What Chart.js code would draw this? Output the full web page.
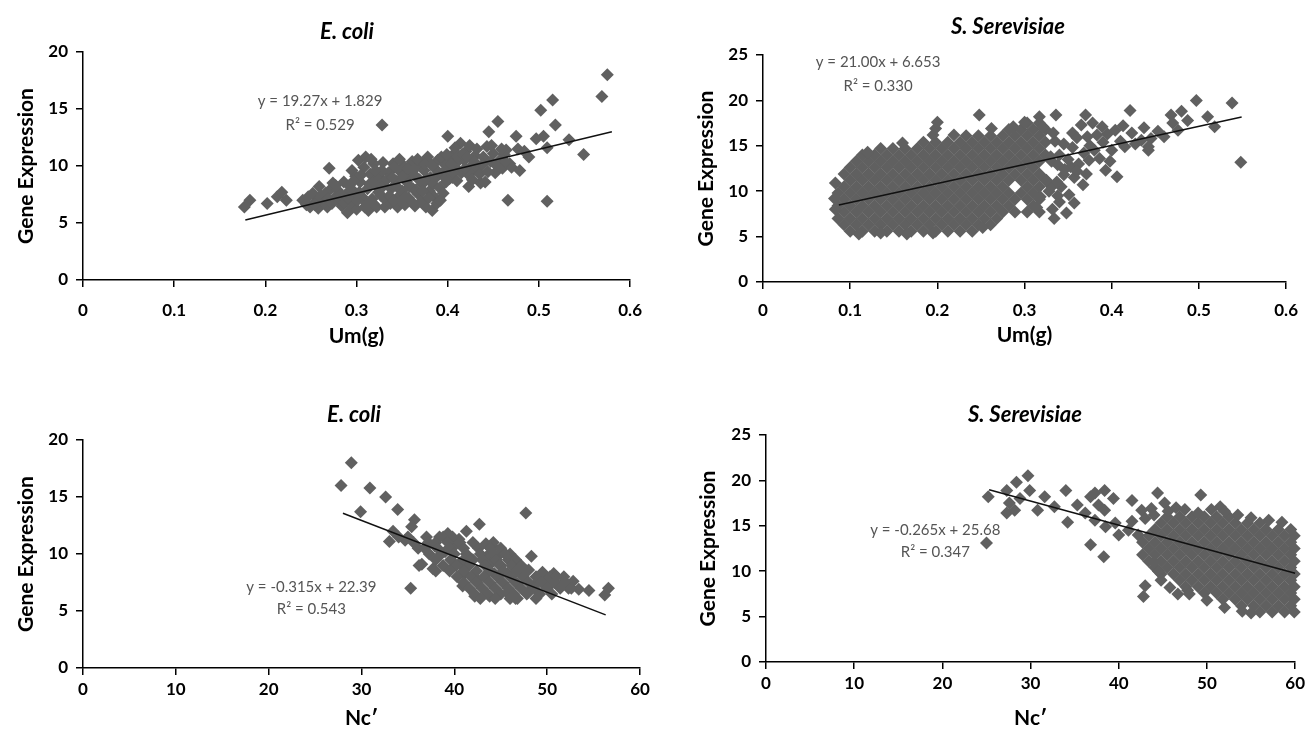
<!DOCTYPE html>
<html>
<head>
<meta charset="utf-8">
<script src="https://cdn.jsdelivr.net/npm/chart.js@4.4.1/dist/chart.umd.min.js"></script>
<style>
  html, body { margin: 0; padding: 0; background: #fff; overflow: hidden; width: 1309px; height: 731px; }
  canvas { position: absolute; }
</style>
</head>
<body>
<canvas id="p1" width="655" height="360" style="left:0;top:0"></canvas>
<canvas id="p2" width="629" height="360" style="left:680px;top:0"></canvas>
<canvas id="p3" width="655" height="361" style="left:0;top:370px"></canvas>
<canvas id="p4" width="629" height="361" style="left:680px;top:370px"></canvas>
<script>
// tick values
const umTicks = [0, 0.1, 0.2, 0.3, 0.4, 0.5, 0.6];
const ncTicks = [0, 10, 20, 30, 40, 50, 60];
const ecoliExprTicks = [0, 5, 10, 15, 20];
const yeastExprTicks = [0, 5, 10, 15, 20, 25];

// E. coli: Um(g) vs gene expression  [x, y]
const ecoliUmPoints = [
  [0.177,6.4],[0.183,7.0],[0.202,6.7],[0.213,7.3],[0.218,7.7],[0.223,7.0],[0.241,7.0],[0.245,6.6],
  [0.249,6.4],[0.252,7.6],[0.256,6.9],[0.258,6.3],[0.259,8.2],[0.263,7.0],[0.266,7.6],[0.268,6.4],
  [0.270,9.8],[0.272,8.0],[0.274,8.5],[0.276,7.2],[0.279,7.9],[0.281,7.0],[0.284,6.5],[0.286,8.6],
  [0.288,7.5],[0.290,5.9],[0.292,8.3],[0.293,6.9],[0.295,9.6],[0.296,6.4],[0.298,7.7],[0.299,9.1],
  [0.300,6.2],[0.302,10.5],[0.304,8.6],[0.306,7.3],[0.308,9.9],[0.310,10.8],[0.311,6.7],[0.312,8.0],
  [0.313,6.1],[0.315,9.3],[0.317,7.1],[0.319,10.2],[0.320,8.7],[0.322,6.4],[0.324,7.7],[0.326,9.0],
  [0.328,13.6],[0.328,9.6],[0.330,8.3],[0.331,6.4],[0.332,7.0],[0.335,9.4],[0.337,6.7],[0.338,8.0],
  [0.340,10.2],[0.342,9.9],[0.343,8.7],[0.345,6.4],[0.346,7.3],[0.348,9.5],[0.350,7.8],[0.352,10.0],
  [0.353,6.6],[0.355,8.6],[0.357,7.2],[0.359,9.3],[0.361,10.4],[0.362,8.0],[0.364,6.5],[0.366,9.0],
  [0.368,7.5],[0.370,10.1],[0.372,8.4],[0.374,9.6],[0.376,6.4],[0.378,10.8],[0.380,7.8],[0.381,9.0],
  [0.383,6.1],[0.384,8.4],[0.385,7.3],[0.387,9.7],[0.388,6.7],[0.389,10.5],[0.391,8.1],[0.392,7.0],
  [0.394,9.2],[0.396,10.2],[0.398,8.6],[0.400,12.6],[0.401,9.6],[0.403,10.6],[0.405,9.0],[0.407,11.1],
  [0.409,9.8],[0.411,10.4],[0.414,12.0],[0.415,9.4],[0.418,10.5],[0.420,11.3],[0.422,9.3],[0.423,8.2],
  [0.426,10.0],[0.428,9.6],[0.430,10.9],[0.433,9.8],[0.436,8.5],[0.439,10.8],[0.441,8.6],[0.443,11.7],
  [0.445,13.0],[0.447,10.4],[0.450,11.1],[0.452,9.4],[0.455,13.9],[0.457,10.5],[0.460,9.8],[0.462,11.0],
  [0.464,11.4],[0.466,7.0],[0.468,10.2],[0.470,9.9],[0.475,12.6],[0.477,11.5],[0.479,9.6],[0.484,11.3],
  [0.489,10.8],[0.497,12.4],[0.502,14.9],[0.505,12.6],[0.509,11.6],[0.509,6.9],[0.515,15.8],[0.518,13.6],
  [0.533,12.3],[0.549,11.0],[0.569,16.1],[0.575,18.0],
  [0.247,7.3],[0.254,6.6],[0.261,7.4],[0.265,6.8],[0.269,7.1],[0.273,6.7],[0.277,8.3],[0.283,7.5],
  [0.287,6.8],[0.291,7.2],[0.294,7.9],[0.297,8.7],[0.301,7.0],[0.303,7.7],[0.305,9.2],[0.309,6.4],
  [0.314,8.4],[0.316,10.6],[0.318,6.7],[0.321,9.6],[0.323,8.2],[0.327,7.4],[0.329,10.3],[0.333,8.8],
  [0.336,7.4],[0.339,9.0],[0.341,6.9],[0.344,8.2],[0.347,10.6],[0.349,6.9],[0.351,9.1],[0.354,7.3],
  [0.356,9.8],[0.358,8.2],[0.360,6.9],[0.363,9.7],[0.365,7.9],[0.367,10.6],[0.369,8.8],[0.371,6.9],
  [0.373,7.8],[0.375,10.2],[0.377,8.9],[0.379,7.2],[0.382,10.1],[0.386,8.9],[0.390,9.4],[0.393,10.8],
  [0.395,7.6],[0.397,9.6],[0.399,11.0],[0.402,8.9],[0.404,10.1],[0.406,9.4],[0.408,11.6],[0.410,8.7],
  [0.412,10.9],[0.416,11.0],[0.419,9.8],[0.421,10.8],[0.424,11.8],[0.427,8.8],[0.429,10.4],[0.432,11.5],
  [0.435,9.3],[0.438,10.1],[0.444,9.5],[0.448,11.8],[0.454,10.0],[0.459,11.5],[0.463,10.4]
];
const ecoliUmFit = [[0.178, 5.26], [0.580, 13.01]];

// E. coli: Nc' vs gene expression
const ecoliNcPoints = [
  [27.8,16.0],[28.9,18.0],[30.9,15.8],[32.6,15.0],[29.9,13.7],[33.9,13.9],[35.7,13.0],[33.0,11.1],
  [33.4,12.0],[34.7,11.2],[35.4,12.4],[36.1,10.5],[36.5,9.1],[35.3,7.0],[36.2,9.0],[37.7,8.7],
  [37.9,10.7],[38.4,11.5],[39.3,11.8],[40.0,10.7],[40.6,9.2],[41.1,8.3],[40.9,7.2],[41.3,12.0],
  [42.7,12.6],[42.0,9.5],[42.5,7.7],[42.2,6.3],[43.4,10.9],[44.1,10.7],[44.7,9.8],[44.3,8.3],
  [43.8,6.3],[45.7,8.3],[45.7,6.6],[46.3,8.9],[46.8,7.4],[46.6,6.1],[47.5,8.3],[47.9,6.6],
  [47.7,13.6],[48.3,9.8],[48.8,7.4],[49.7,7.7],[50.2,7.2],[50.7,8.3],[51.6,7.4],[52.3,7.0],
  [53.4,6.9],[54.5,6.8],[56.2,6.4],[56.6,7.0],
  [39.0,10.2],[40.5,11.3],[42.0,11.0],[43.5,9.8],[45.0,9.0],[46.0,10.0],[44.0,9.2],[48.0,8.6],
  [49.5,8.4],[51.8,8.0],[52.8,7.6]
];
// dense core, one row per expression level: [y, [x...]]
const ecoliNcRows = [
  [11.5, [34.0, 35.0, 37.0, 38.8, 39.8]],
  [11.0, [35.6, 37.2, 38.0, 39.3, 40.6, 44.2]],
  [10.5, [36.8, 38.2, 39.5, 41.0, 42.6, 43.9, 45.0]],
  [10.0, [37.3, 38.6, 40.0, 41.3, 42.8, 44.3, 45.5]],
  [9.5,  [38.0, 39.6, 41.0, 41.7, 43.0, 44.5, 45.8, 46.6]],
  [9.0,  [38.8, 40.2, 41.6, 43.3, 44.9, 46.2, 47.2]],
  [8.5,  [38.0, 39.5, 41.0, 42.4, 43.8, 45.3, 46.7, 47.8]],
  [8.0,  [40.3, 41.8, 43.2, 44.6, 46.0, 47.4, 48.8, 50.3, 51.0]],
  [7.5,  [41.0, 42.4, 43.8, 45.2, 46.6, 48.0, 49.4, 50.8, 52.0]],
  [7.0,  [41.6, 43.0, 44.4, 45.8, 47.2, 48.6, 50.0, 51.4, 52.6]],
  [6.5,  [42.2, 43.6, 45.0, 46.4, 47.8, 49.2, 50.5]],
  [6.1,  [42.8, 44.4, 46.0, 46.8, 48.8]]
];
const ecoliNcFit = [[28.0, 13.57], [56.3, 4.66]];

// S. cerevisiae: Um(g) vs gene expression
const yeastUmRows = [
  [5.6,  [0.100,0.114,0.128,0.142,0.156,0.170,0.184,0.198,0.212,0.226,0.240]],
  [6.3,  [0.093,0.107,0.121,0.135,0.149,0.163,0.177,0.191,0.205,0.219,0.233,0.247,0.261]],
  [7.0,  [0.086,0.100,0.114,0.128,0.142,0.156,0.170,0.184,0.198,0.212,0.226,0.240,0.254,0.268]],
  [7.7,  [0.093,0.107,0.121,0.135,0.149,0.163,0.177,0.191,0.205,0.219,0.233,0.247,0.261,0.275,0.289,0.303,0.317]],
  [8.4,  [0.086,0.100,0.114,0.128,0.142,0.156,0.170,0.184,0.198,0.212,0.226,0.240,0.254,0.268,0.282,0.310]],
  [9.1,  [0.093,0.107,0.121,0.135,0.149,0.163,0.177,0.191,0.205,0.219,0.233,0.247,0.261,0.275,0.289,0.303,0.317]],
  [9.8,  [0.086,0.100,0.114,0.128,0.142,0.156,0.170,0.184,0.198,0.212,0.226,0.240,0.254,0.268,0.282,0.296,0.310]],
  [10.5, [0.093,0.107,0.121,0.135,0.149,0.163,0.177,0.191,0.205,0.219,0.233,0.247,0.261,0.275,0.303,0.317,0.331]],
  [11.2, [0.100,0.114,0.128,0.142,0.156,0.170,0.184,0.198,0.212,0.226,0.240,0.254,0.268,0.282,0.296,0.310,0.324]],
  [11.9, [0.093,0.107,0.121,0.135,0.149,0.163,0.177,0.191,0.205,0.219,0.233,0.247,0.261,0.275,0.289,0.303,0.317]],
  [12.6, [0.100,0.114,0.128,0.142,0.156,0.170,0.184,0.198,0.212,0.226,0.240,0.254,0.268,0.282,0.296,0.310]],
  [13.3, [0.107,0.121,0.135,0.149,0.163,0.177,0.191,0.205,0.219,0.233,0.247,0.261,0.275,0.289,0.303,0.317,0.331]],
  [14.0, [0.114,0.128,0.142,0.156,0.170,0.184,0.198,0.212,0.226,0.240,0.254,0.268,0.282,0.296,0.310,0.324]],
  [14.7, [0.135,0.149,0.163,0.177,0.191,0.205,0.219,0.233,0.247,0.261,0.275,0.289,0.303,0.317]],
  [15.4, [0.184,0.198,0.212,0.226,0.240,0.254,0.268,0.282,0.296,0.310,0.324]],
  [16.1, [0.233,0.247,0.261,0.275,0.289,0.303,0.317]],
  [16.8, [0.282,0.296,0.310,0.324]],
  [17.5, [0.303,0.317]]
];
const yeastUmPoints = [
  [0.083,10.9],[0.195,16.2],[0.198,16.9],[0.200,17.6],[0.248,18.4],[0.287,17.1],[0.317,18.2],[0.314,8.2],
  [0.318,9.4],[0.325,11.2],[0.328,10.0],[0.334,7.0],[0.340,8.8],[0.342,10.5],[0.345,11.8],[0.351,9.6],
  [0.353,12.7],[0.357,11.5],[0.367,10.7],[0.338,12.9],[0.330,13.8],[0.340,14.0],[0.350,13.5],[0.362,13.0],
  [0.374,13.4],[0.386,13.6],[0.398,13.3],[0.393,12.3],[0.406,11.6],[0.335,15.5],[0.345,15.2],[0.355,14.8],
  [0.368,14.2],[0.380,14.5],[0.400,14.5],[0.415,14.9],[0.375,15.0],[0.390,15.4],[0.410,15.5],[0.427,15.2],
  [0.434,15.6],[0.442,14.5],[0.442,14.9],[0.445,15.8],[0.333,16.4],[0.321,17.1],[0.355,16.4],[0.360,15.9],
  [0.372,16.0],[0.383,16.2],[0.395,16.3],[0.404,16.7],[0.423,16.4],[0.453,16.6],[0.460,16.0],[0.365,17.3],
  [0.378,17.5],[0.389,17.1],[0.413,17.2],[0.437,17.0],[0.336,18.4],[0.370,18.4],[0.421,18.9],[0.468,18.4],
  [0.470,17.5],[0.476,16.7],[0.480,18.8],[0.487,17.8],[0.497,20.0],[0.510,18.2],[0.518,17.1],[0.538,19.7],
  [0.548,13.2],
  [0.219,16.2],[0.262,16.9],[0.300,17.6],[0.160,15.3],[0.120,14.3],[0.338,9.5],[0.346,12.4],[0.332,8.0],
  [0.360,12.2],[0.371,11.9],[0.357,8.7],[0.348,7.6],[0.337,11.0],[0.110,5.3],[0.135,5.4],[0.165,5.3],
  [0.195,5.4],[0.252,6.0],[0.083,8.0],[0.082,9.2]
];
const yeastUmFit = [[0.087, 8.48], [0.549, 18.18]];

// S. cerevisiae: Nc' vs gene expression
const yeastNcRows = [
  [5.5,  [56.0,57.4,58.8,59.9]],
  [6.2,  [53.9,55.3,56.7,58.1,59.5]],
  [6.9,  [51.8,53.2,54.6,56.0,57.4,58.8,59.9]],
  [7.6,  [49.7,51.1,52.5,53.9,55.3,56.7,58.1,59.5]],
  [8.3,  [47.6,49.0,50.4,51.8,53.2,54.6,56.0,57.4,58.8,59.9]],
  [9.0,  [46.9,48.3,49.7,51.1,52.5,53.9,55.3,56.7,58.1,59.5]],
  [9.7,  [44.8,46.2,47.6,49.0,50.4,51.8,53.2,54.6,56.0,57.4,58.8,59.9]],
  [10.4, [44.1,45.5,46.9,48.3,49.7,51.1,52.5,53.9,55.3,56.7,58.1,59.5]],
  [11.1, [43.4,44.8,46.2,47.6,49.0,50.4,51.8,53.2,54.6,56.0,57.4,58.8,59.9]],
  [11.8, [42.7,44.1,45.5,46.9,48.3,49.7,51.1,52.5,53.9,55.3,56.7,58.1,59.5]],
  [12.5, [43.4,44.8,46.2,47.6,49.0,50.4,51.8,53.2,54.6,56.0,57.4,58.8,59.9]],
  [13.2, [42.7,44.1,45.5,46.9,48.3,49.7,51.1,52.5,53.9,55.3,56.7,58.1,59.5]],
  [13.9, [43.4,44.8,46.2,47.6,49.0,50.4,51.8,53.2,54.6,56.0,57.4,58.8,59.9]],
  [14.6, [44.1,45.5,46.9,48.3,49.7,51.1,52.5,53.9,55.3,56.7,58.1,59.5]],
  [15.3, [44.8,46.2,47.6,49.0,50.4,51.8,53.2,54.6,56.0]],
  [16.0, [45.5,46.9,48.3,49.7,51.1,52.5]]
];
const yeastNcPoints = [
  [25.0,13.1],[25.2,18.2],[27.3,18.9],[27.3,16.4],[27.6,17.5],[28.2,16.7],[28.4,19.8],[28.8,18.0],
  [29.7,20.5],[29.9,18.9],[30.8,16.7],[31.6,18.2],[32.7,17.1],[34.0,18.9],[34.2,15.4],[35.3,17.3],
  [36.2,16.4],[36.8,12.9],[36.8,18.2],[37.3,18.6],[37.3,15.6],[37.7,17.3],[38.3,11.6],[38.4,18.9],
  [38.4,16.7],[38.5,14.9],[39.4,18.0],[39.6,15.3],[40.0,14.0],[41.1,14.5],[41.5,17.8],[41.5,15.5],
  [42.2,14.0],[42.6,16.7],[43.7,16.9],[44.4,18.6],[45.2,17.5],[45.6,16.6],[43.0,8.4],[42.8,7.2],
  [44.0,11.0],[44.5,10.0],[46.7,7.5],[47.8,7.9],[49.3,18.4],[51.5,17.1],[49.0,16.4],[52.0,16.6],
  [43.0,15.8],[44.0,16.2],[46.5,17.0],[47.5,16.8],[50.5,16.8],[53.5,16.2],[55.0,15.9],[57.0,15.6],
  [58.5,15.4],[44.8,9.0],[45.8,8.2],[48.0,7.5],[50.0,6.8],[52.0,6.0],[54.0,5.6],[55.0,5.4]
];
const yeastNcFit = [[25.3, 18.98], [60.0, 9.78]];

const MARKER = '#606060';
Chart.defaults.font.family = "Lato, 'Open Sans', sans-serif";
Chart.defaults.color = '#000';

function toXY(pairs) { return pairs.map(p => ({ x: p[0], y: p[1] })); }
function fromRows(rows) {
  const out = [];
  rows.forEach(r => r[1].forEach(x => out.push({ x: x, y: r[0] })));
  return out;
}

// panel title + regression equation
const panelText = {
  id: 'panelText',
  afterDatasetsDraw(chart, args, o) {
    const ctx = chart.ctx;
    ctx.save();
    ctx.textAlign = 'center';
    ctx.textBaseline = 'middle';
    ctx.fillStyle = '#000';
    ctx.font = "italic bold 22px Lato, sans-serif";
    ctx.fillText(o.title, o.titlePos[0], o.titlePos[1]);
    ctx.fillStyle = '#555';
    ctx.font = "15px Lato, sans-serif";
    const px = chart.scales.x.getPixelForValue(o.eqX);
    o.eq.forEach((line, i) => ctx.fillText(line, px, chart.scales.y.getPixelForValue(o.eqY[i])));
    ctx.restore();
  }
};

function axis(c, ticks, title, isX) {
  return {
    type: 'linear',
    min: ticks[0], max: ticks[ticks.length - 1],
    afterBuildTicks: s => { s.ticks = ticks.map(v => ({ value: v })); },
    afterFit: s => { if (isX) s.height = c.xh; else s.width = c.yw; },
    border: { display: true, color: '#000', width: 1.5 },
    grid: { drawOnChartArea: false, drawTicks: true, tickLength: 7, color: '#000', lineWidth: 1.5 },
    ticks: { padding: isX ? c.xtp : 8, maxRotation: 0, color: '#000', font: { size: 17, weight: 'bold' } },
    title: { display: true, text: title, color: '#000', padding: 0, font: { size: 21, weight: 'bold' } }
  };
}

function panel(id, c) {
  new Chart(document.getElementById(id), {
    type: 'scatter',
    data: {
      datasets: [
        { data: toXY(c.fit), showLine: true, borderColor: '#111', borderWidth: 1.5, pointRadius: 0, order: 0, clip: false },
        { data: c.points, pointStyle: 'rectRot', pointRadius: 6.5, backgroundColor: MARKER, borderWidth: 0, order: 1, clip: false }
      ]
    },
    options: {
      responsive: false,
      animation: false,
      events: [],
      layout: { padding: c.pad },
      plugins: {
        legend: { display: false },
        tooltip: { enabled: false },
        panelText: { title: c.title, titlePos: c.titlePos, eq: c.eq, eqX: c.eqX, eqY: c.eqY }
      },
      scales: {
        x: axis(c, c.xTicks, c.xTitle, true),
        y: axis(c, c.yTicks, 'Gene Expression', false)
      }
    },
    plugins: [panelText]
  });
}

panel('p1', {
  points: toXY(ecoliUmPoints), fit: ecoliUmFit,
  xTicks: umTicks, yTicks: ecoliExprTicks, xTitle: 'Um(g)',
  pad: { left: 14, right: 16, top: 52, bottom: 11 }, yw: 69, xh: 69, xtp: 13,
  title: 'E. coli', titlePos: [347, 32],
  eq: ['y = 19.27x + 1.829', 'R\u00B2 = 0.529'], eqX: 0.26, eqY: [15.7, 13.6]
});

panel('p2', {
  points: fromRows(yeastUmRows).concat(toXY(yeastUmPoints)), fit: yeastUmFit,
  xTicks: umTicks, yTicks: yeastExprTicks, xTitle: 'Um(g)',
  pad: { left: 14, right: 15, top: 55, bottom: 12 }, yw: 69, xh: 66, xtp: 11,
  title: 'S. Serevisiae', titlePos: [328, 27],
  eq: ['y = 21.00x + 6.653', 'R\u00B2 = 0.330'], eqX: 0.132, eqY: [24.2, 21.6]
});

panel('p3', {
  points: toXY(ecoliNcPoints).concat(fromRows(ecoliNcRows)), fit: ecoliNcFit,
  xTicks: ncTicks, yTicks: ecoliExprTicks, xTitle: 'Nc\u2032',
  pad: { left: 14, right: 15, top: 70, bottom: 0 }, yw: 69, xh: 63, xtp: 4,
  title: 'E. coli', titlePos: [354, 45],
  eq: ['y = -0.315x + 22.39', 'R\u00B2 = 0.543'], eqX: 24.6, eqY: [7.1, 5.2]
});

panel('p4', {
  points: fromRows(yeastNcRows).concat(toXY(yeastNcPoints)), fit: yeastNcFit,
  xTicks: ncTicks, yTicks: yeastExprTicks, xTitle: 'Nc\u2032',
  pad: { left: 16, right: 7, top: 65, bottom: 0 }, yw: 70, xh: 69, xtp: 4,
  title: 'S. Serevisiae', titlePos: [345, 45],
  eq: ['y = -0.265x + 25.68', 'R\u00B2 = 0.347'], eqX: 19.2, eqY: [14.5, 12.1]
});
</script>
</body>
</html>
